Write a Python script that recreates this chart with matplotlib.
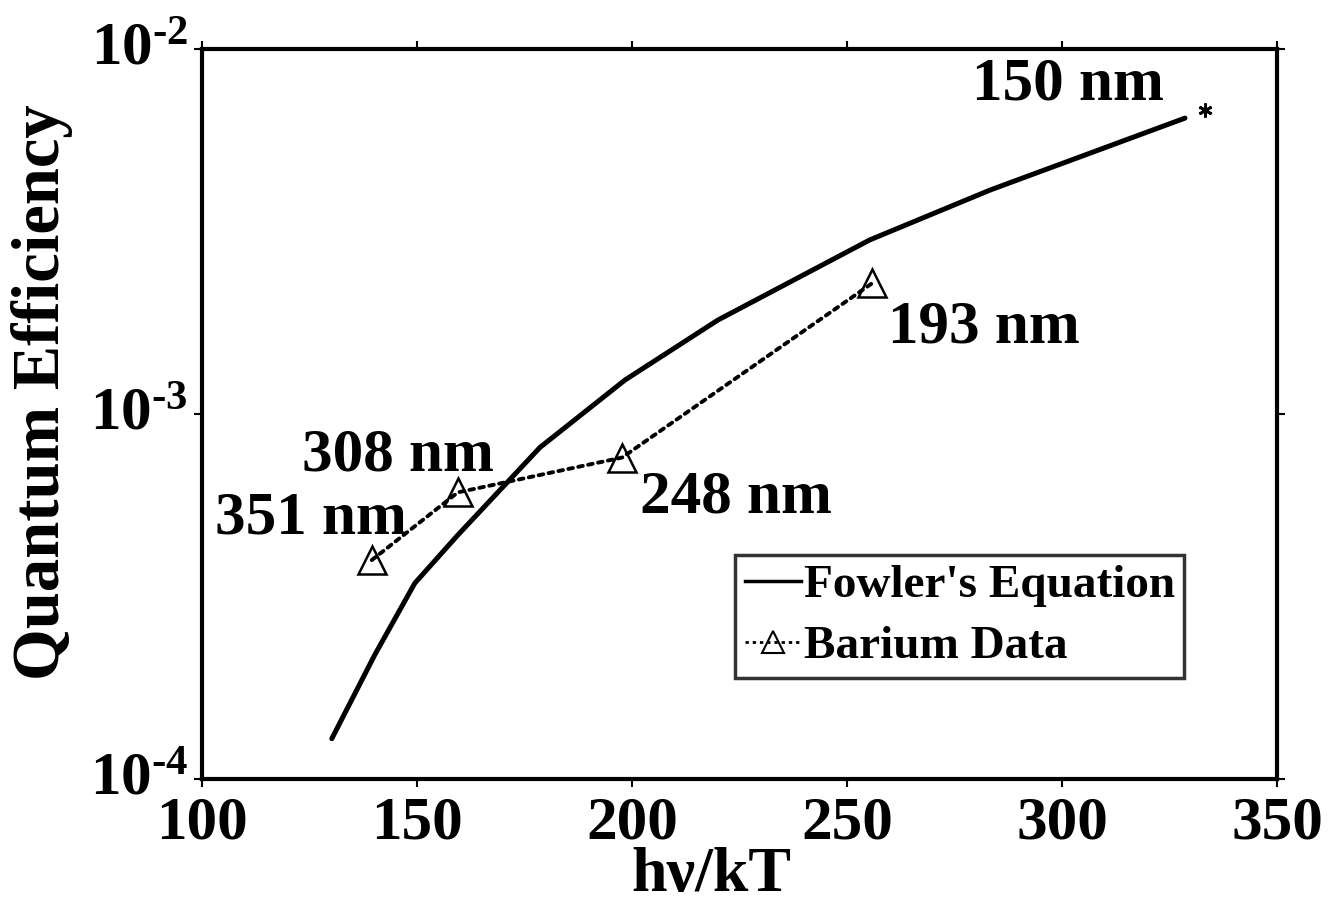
import matplotlib
matplotlib.use("Agg")
import matplotlib.pyplot as plt
import matplotlib.transforms as mtransforms
from matplotlib.lines import Line2D

plt.rcParams['font.family'] = ['Liberation Serif', 'DejaVu Serif']
plt.rcParams['font.weight'] = 'bold'
plt.rcParams['mathtext.fontset'] = 'custom'
plt.rcParams['mathtext.rm'] = 'Liberation Serif:bold'
plt.rcParams['mathtext.bf'] = 'Liberation Serif:bold'
plt.rcParams['mathtext.it'] = 'Liberation Serif:bold'

# Fowler's equation curve
fowler_x = [130.2, 140.2, 149.5, 159.5, 178.6, 198.4, 220.0, 255.3, 283.3, 328.6]
fowler_y = [1.29e-4, 2.19e-4, 3.44e-4, 4.66e-4, 8.1e-4, 1.24e-3, 1.81e-3, 3.0e-3, 4.11e-3, 6.47e-3]

# Barium data
barium_x = [139.5, 159.5, 197.7, 255.8]
barium_y = [3.98e-4, 6.1e-4, 7.6e-4, 2.28e-3]
barium_labels = ["351 nm", "308 nm", "248 nm", "193 nm"]

# 150 nm point
star_x = [333.3]
star_y = [6.8e-3]
star_label = "150 nm"

xticks = [100, 150, 200, 250, 300, 350]
yticks = [1e-4, 1e-3, 1e-2]
ytick_labels = ["$10^{\u20104}$", "$10^{\u20103}$", "$10^{\u20102}$"]

fig = plt.figure(figsize=(13.4, 9.09), dpi=100)
ax = fig.add_axes([0.1507, 0.143, 0.8023, 0.803])

ax.plot(fowler_x, fowler_y, color='black', lw=3.6, solid_capstyle='round')
ax.plot(barium_x, barium_y, color='black', lw=2.8, ls=(0, (1.2, 1.4)),
        dash_capstyle='round',
        marker='^', markersize=20, markerfacecolor='none',
        markeredgecolor='black', markeredgewidth=1.8)
ax.plot(star_x, star_y, ls='none', marker=(6, 2, 0), color='black',
        markersize=10, markeredgewidth=2)

ax.set_yscale('log')
ax.set_xlim(100, 350)
ax.set_ylim(1e-4, 1e-2)
ax.set_xticks(xticks)
ax.set_xticklabels([str(t) for t in xticks])
ax.set_yticks(yticks)
ax.set_yticklabels(ytick_labels)
ax.minorticks_off()
ax.tick_params(axis='both', which='major', direction='out', length=6, width=1.5,
               labelsize=44, top=True, right=True, pad=4)
ax.tick_params(axis='x', pad=6)
for s in ax.spines.values():
    s.set_linewidth(3)

# lift y tick labels slightly so the digits sit at the tick
offset = mtransforms.ScaledTranslation(0, 6 / 100, fig.dpi_scale_trans)
for lab in ax.get_yticklabels():
    lab.set_transform(lab.get_transform() + offset)

ax.set_xlabel("h\u03bd/kT", fontsize=46, fontweight='bold')
ax.xaxis.set_label_coords((711 - 202) / 1075, -(876 - 779) / 730)
ax.xaxis.label.set_va('center')
ax.set_ylabel("Quantum Efficiency", fontsize=48, fontweight='bold')
ax.yaxis.set_label_coords(-(202 - 42) / 1075, (779 - 392) / 730)
ax.yaxis.label.set_va('center')

# annotations
ann_fs = 44
fig.text(1068 / 1340, 1 - 85 / 909, star_label, fontsize=ann_fs, fontweight='bold',
         ha='center', va='center')
ax.annotate(barium_labels[3], (barium_x[3], barium_y[3]), xytext=(888 - 872, -(327 - 283)),
            textcoords='offset pixels', fontsize=ann_fs, fontweight='bold',
            ha='left', va='center')
ax.annotate(barium_labels[2], (barium_x[2], barium_y[2]), xytext=(640 - 622, -(497 - 457)),
            textcoords='offset pixels', fontsize=ann_fs, fontweight='bold',
            ha='left', va='center')
ax.annotate(barium_labels[1], (barium_x[1], barium_y[1]), xytext=(398 - 458, -(455 - 492)),
            textcoords='offset pixels', fontsize=ann_fs, fontweight='bold',
            ha='center', va='center')
ax.annotate(barium_labels[0], (barium_x[0], barium_y[0]), xytext=(215 - 372, -(518 - 560)),
            textcoords='offset pixels', fontsize=ann_fs, fontweight='bold',
            ha='left', va='center')

handles = [
    Line2D([], [], color='black', lw=2.5),
    Line2D([], [], color='black', lw=2, ls=(0, (1.2, 1.4)), marker='^', markersize=16,
           markerfacecolor='none', markeredgecolor='black', markeredgewidth=1.5),
]
leg = ax.legend(handles, ["Fowler's Equation", "Barium Data"],
                loc='upper left', bbox_to_anchor=(0.496, 0.307),
                fontsize=34, frameon=True, fancybox=False, edgecolor='black',
                handlelength=1.2, handletextpad=0.05, borderpad=0.2,
                labelspacing=0.38, borderaxespad=0)
leg.get_frame().set_linewidth(2.5)
for t in leg.get_texts():
    t.set_fontweight('bold')

fig.savefig("out.png", dpi=100, facecolor='white')
